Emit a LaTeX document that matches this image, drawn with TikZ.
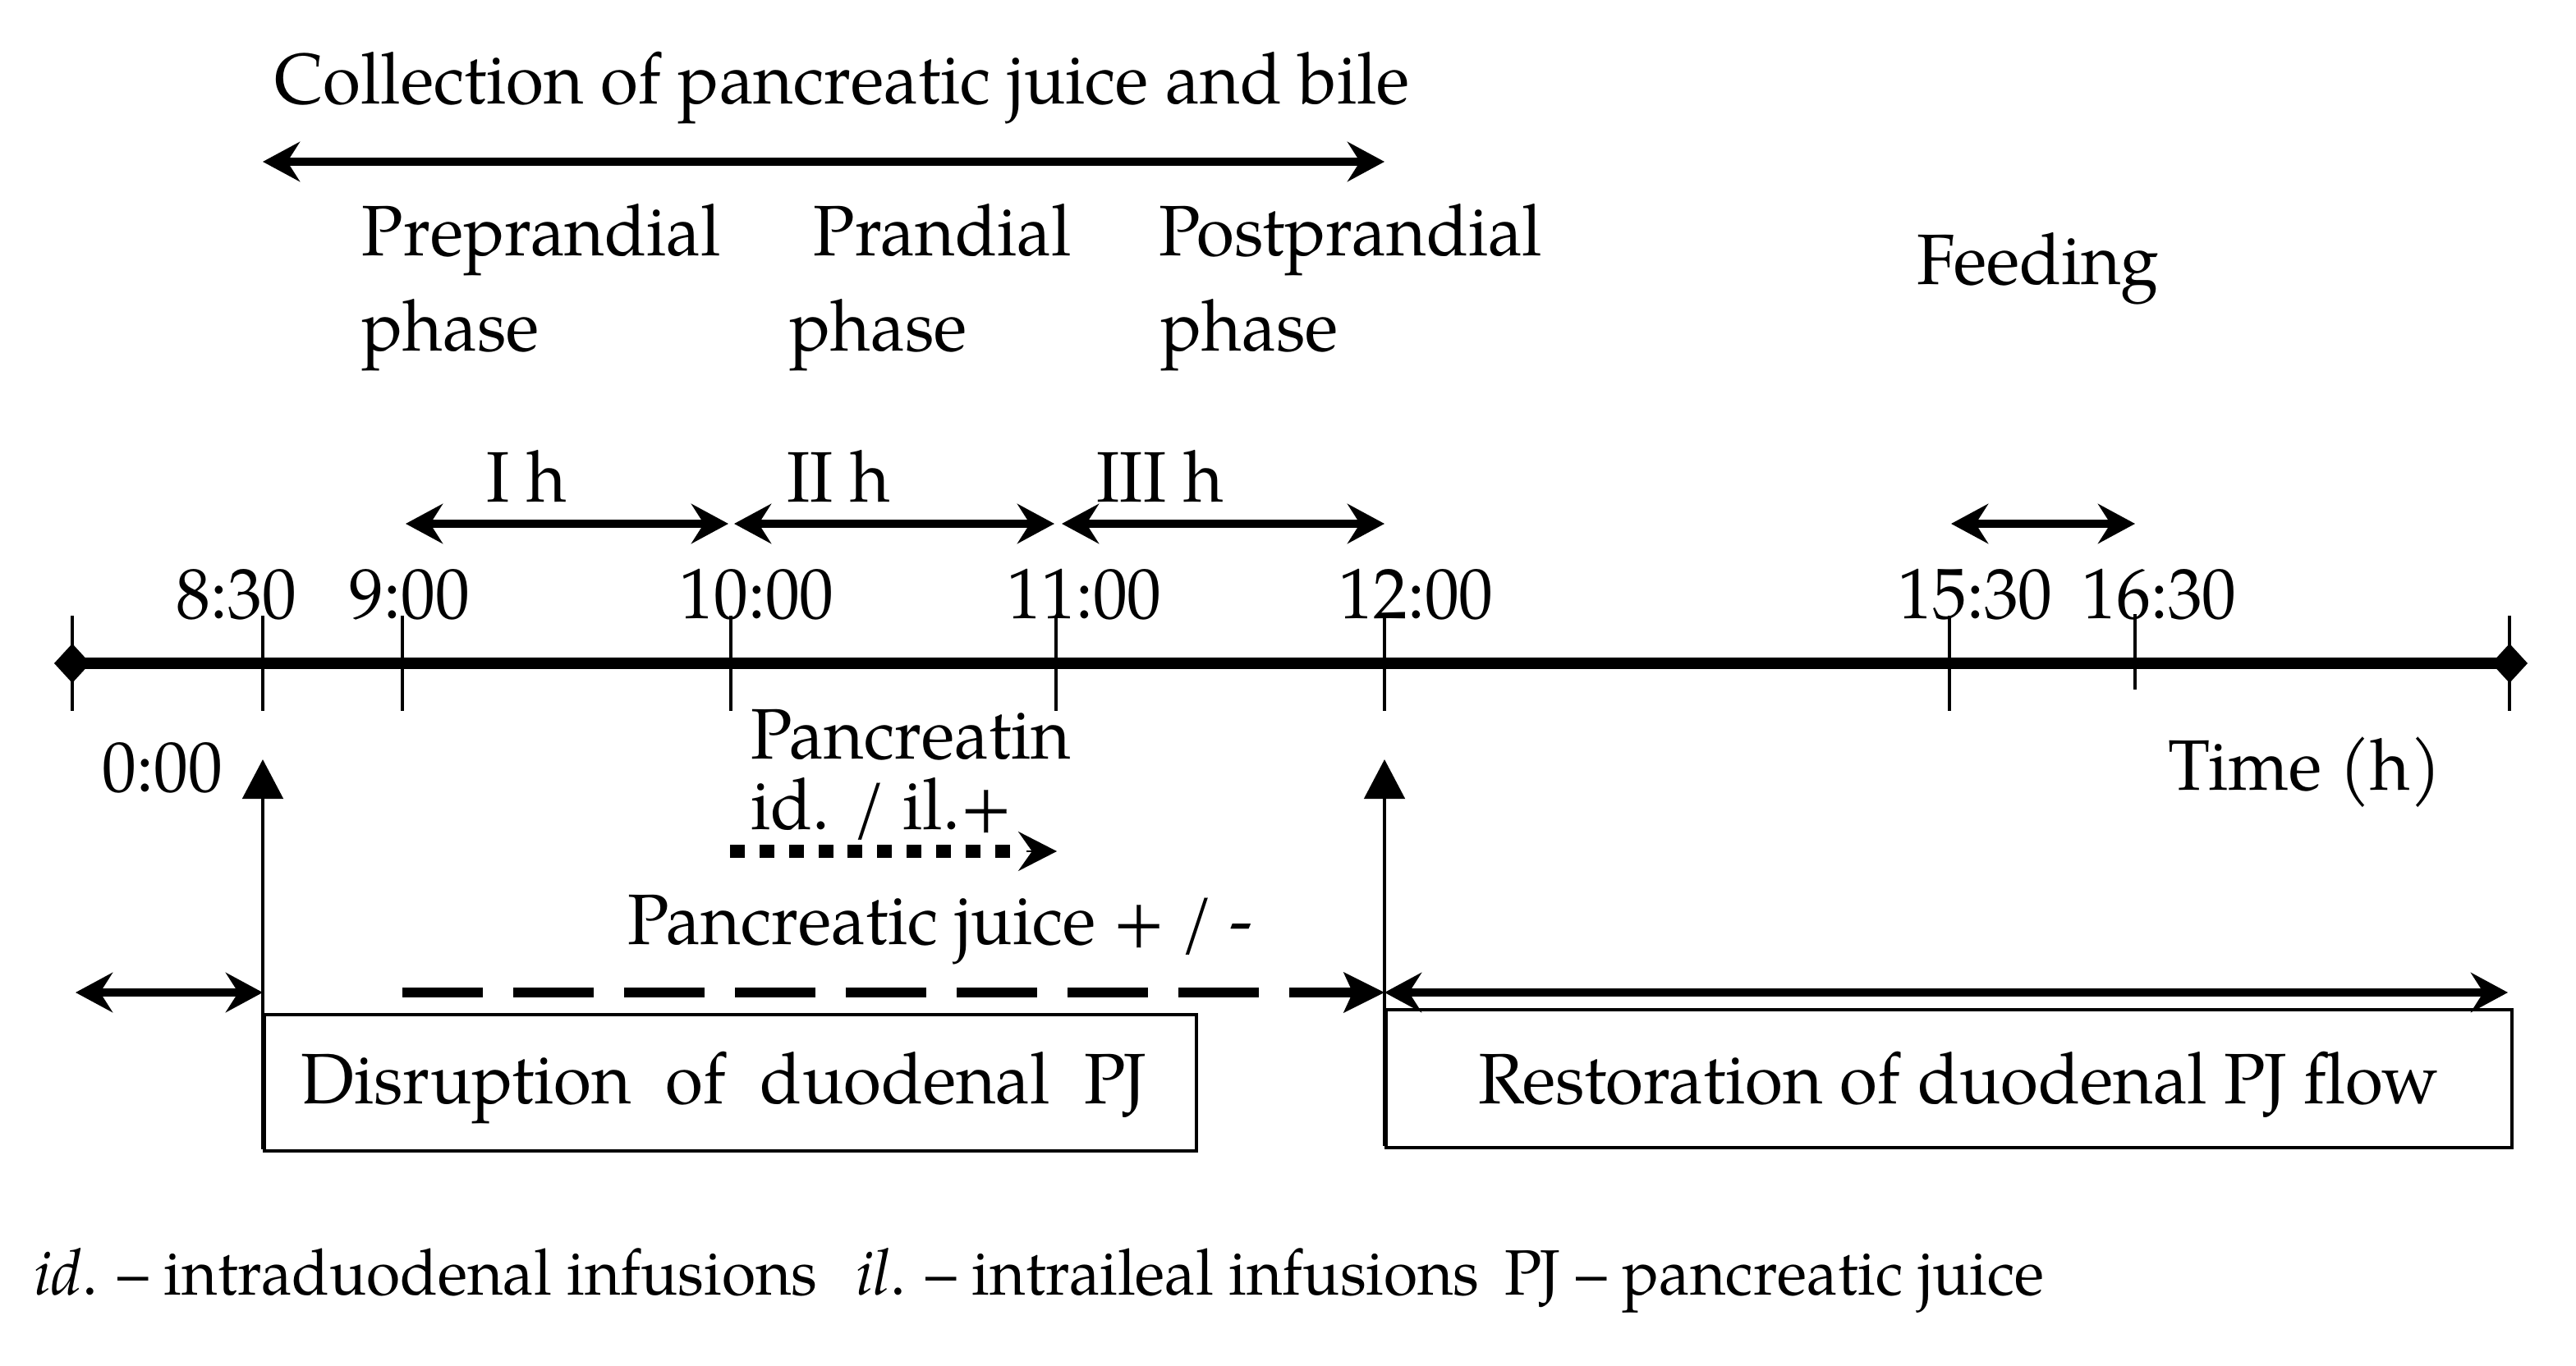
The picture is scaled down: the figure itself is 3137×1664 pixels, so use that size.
\documentclass[tikz,border=0pt]{standalone}
\usepackage{fontspec}
\setmainfont{TeX Gyre Pagella}[FakeStretch=0.96]
\usetikzlibrary{arrows.meta}
\begin{document}
\begin{tikzpicture}[x=0.01cm,y=-0.01cm,
  lbl/.style={inner sep=0pt, anchor=base west, font=\fontsize{24.75pt}{30pt}\selectfont},
  foot/.style={inner sep=0pt, anchor=base west, font=\fontsize{22.2pt}{26pt}\selectfont},
  tickline/.style={line width=1.15pt},
  axisline/.style={line width=4pt},
  dbl/.style={line width=2.85pt, {Stealth[length=12.8pt,width=13.7pt,inset=4.3pt]}-{Stealth[length=12.8pt,width=13.7pt,inset=4.3pt]}},
  uparrow/.style={line width=1.4pt, -{Triangle[length=13.7pt,width=14pt]}},
  dottedline/.style={line width=4.3pt, dash pattern=on 5.1pt off 5.1pt},
  dottip/.style={line width=0.8pt, -{Stealth[length=13.4pt,width=13.7pt,inset=4.8pt]}},
  dashedarrow/.style={line width=3.4pt, dash pattern=on 27.9pt off 10.5pt, -{Stealth[length=14pt,width=13.7pt,inset=3pt]}},
  boxnode/.style={draw, line width=1.15pt, inner sep=0pt, anchor=north west},
]
\useasboundingbox (0,0) rectangle (3137,1664);

% axis coordinates
\coordinate (t0) at (88,808);
\coordinate (t830) at (320,808);
\coordinate (t9) at (490,808);
\coordinate (t10) at (890,808);
\coordinate (t11) at (1286,808);
\coordinate (t12) at (1686,808);
\coordinate (t1530) at (2374,808);
\coordinate (t1630) at (2600,808);
\coordinate (tend) at (3056,808);

% ticks
\foreach \xx in {88,320,490,890,1286,1686,2374,3056}
  \draw[tickline] (\xx,750) -- (\xx,866);
\draw[tickline] (2600,748) -- (2600,840);

% main axis with diamonds
\draw[axisline] (t0) -- (tend);
\fill[shift={(t0)}] (-22,0) -- (0,-24) -- (22,0) -- (0,24) -- cycle;
\fill[shift={(tend)}] (-22,0) -- (0,-24) -- (22,0) -- (0,24) -- cycle;

% tick labels
\node[lbl] (l830) at (214,753) {8:30};
\node[lbl] (l9) at (425,753) {9:00};
\node[lbl] (l10) at (827,753) {10:00};
\node[lbl] (l11) at (1226,753) {11:00};
\node[lbl] (l12) at (1630,753) {12:00};
\node[lbl] (l1530) at (2311,753) {15:30};
\node[lbl] (l1630) at (2535,753) {16:30};
\node[lbl] (l0) at (124,964) {0:00};
\node[lbl] (time) at (2640,962) {Time (h)};

% top
\node[lbl] (coll) at (334,127) {Collection of pancreatic juice and bile};
\coordinate (c1) at (320,197);
\coordinate (c2) at (1686,197);
\draw[dbl] (c1) -- (c2);

\node[lbl] (pre1) at (440,312) {Preprandial};
\node[lbl] (pre2) at (440,428) {phase};
\node[lbl] (pra1) at (990,312) {Prandial};
\node[lbl] (pra2) at (961,428) {phase};
\node[lbl] (post1) at (1411,312) {Postprandial};
\node[lbl] (post2) at (1413,428) {phase};
\node[lbl] (feed) at (2334,347) {Feeding};

% hour arrows
\node[lbl] (h1) at (592,611) {I h};
\node[lbl] (h2) at (958,611) {II h};
\node[lbl] (h3) at (1335,611) {III h};
\coordinate (ha1) at (494,638);
\coordinate (hb1) at (887,638);
\coordinate (ha2) at (894,638);
\coordinate (hb2) at (1284,638);
\coordinate (ha3) at (1293,638);
\coordinate (hb3) at (1686,638);
\draw[dbl] (ha1) -- (hb1);
\draw[dbl] (ha2) -- (hb2);
\draw[dbl] (ha3) -- (hb3);
\coordinate (fa) at (2376,638);
\coordinate (fb) at (2600,638);
\draw[dbl] (fa) -- (fb);

% pancreatin
\node[lbl] (panc) at (914,924) {Pancreatin};
\node[lbl] (idil) at (914,1010) {id. / il.+};
\coordinate (pa) at (889,1037);
\coordinate (pm) at (1244,1037);
\coordinate (pt) at (1250,1037);
\coordinate (pb) at (1287,1037);
\draw[dottedline] (pa) -- (pm);
\draw[dottip] (pt) -- (pb);

% pancreatic juice
\node[lbl] (pj) at (764,1150) {Pancreatic juice +\kern0.22em/\kern0.22em-};
\coordinate (da) at (490,1209);
\coordinate (db) at (1686,1209);
\draw[dashedarrow] (da) -- (db);

% left double arrow
\coordinate (la) at (92,1209);
\coordinate (lb) at (320,1209);
\draw[dbl] (la) -- (lb);

% restoration double arrow
\coordinate (ra) at (1686,1209);
\coordinate (rb) at (3054,1209);
\draw[dbl] (ra) -- (rb);

% boxes
\node[boxnode, minimum width=11.34cm, minimum height=1.66cm] (disrbox) at (320,1234) {};
\node[boxnode, minimum width=13.70cm, minimum height=1.68cm] (restbox) at (1686,1228) {};
\node[lbl] (disr) at (366,1344) {Disruption\hspace{0.48em}of\hspace{0.48em}duodenal\hspace{0.48em}PJ};
\node[lbl] (rest) at (1800,1344) {Restoration of duodenal PJ flow};

% up arrows
\coordinate (ua1) at (320,1400);
\coordinate (ub1) at (320,925);
\coordinate (ua2) at (1686,1396);
\coordinate (ub2) at (1686,925);
\draw[uparrow] (ua1) -- (ub1);
\draw[uparrow] (ua2) -- (ub2);

% footer
\node[foot] (foot) at (41,1577) {\textit{id}. – intraduodenal infusions\hspace{0.6em}\textit{il}. – intraileal infusions\hspace{0.4em}PJ – pancreatic juice};
\end{tikzpicture}
\end{document}
